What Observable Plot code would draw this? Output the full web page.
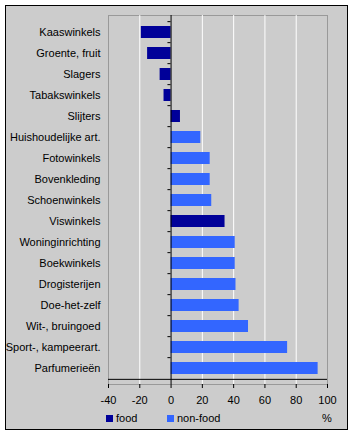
<!DOCTYPE html>
<html>
<head>
<meta charset="utf-8">
<script src="https://cdn.jsdelivr.net/npm/d3@7"></script>
<script src="https://cdn.jsdelivr.net/npm/@observablehq/plot@0.6"></script>
<style>
  html, body { margin: 0; padding: 0; background: #ffffff; }
  #wrap { position: absolute; left: 0; top: 0; width: 354px; height: 436px; }
  #box { position: absolute; left: 5px; top: 5px; width: 343px; height: 425px; background: #cccccc; border: 1px solid #000; box-sizing: border-box; }
  #chart { position: absolute; left: 0; top: 0; }
  .leg { position: absolute; font: 11px "Liberation Sans", Arial, sans-serif; color: #000; top: 411px; line-height: 14px; }
  .sw { display: inline-block; width: 7px; height: 7px; margin-right: 3px; vertical-align: 0px; }
</style>
</head>
<body>
<div id="wrap">
  <div id="box"></div>
  <div id="chart"></div>
  <div class="leg" style="left:106px"><span class="sw" style="background:#000099"></span>food</div>
  <div class="leg" style="left:167px"><span class="sw" style="background:#3366ff"></span>non-food</div>
  <div class="leg" style="left:322px">%</div>
</div>
<script>
const categories = ["Kaaswinkels","Groente, fruit","Slagers","Tabakswinkels","Slijters","Huishoudelijke art.","Fotowinkels","Bovenkleding","Schoenwinkels","Viswinkels","Woninginrichting","Boekwinkels","Drogisterijen","Doe-het-zelf","Wit-, bruingoed","Sport-, kampeerart.","Parfumerieën"];
const values = [-19, -15, -7, -4.5, 6, 19, 25, 25, 26, 34.5, 41, 41, 41.5, 43.5, 49.5, 74.5, 94];
const groups = ["food","food","food","food","food","non-food","non-food","non-food","non-food","food","non-food","non-food","non-food","non-food","non-food","non-food","non-food"];
const xTicks = [-40, -20, 0, 20, 40, 60, 80, 100];
const gridValues = [-20, 20, 40, 60, 80];
const groupNames = ["food", "non-food"];
const groupColors = ["#000099", "#3366ff"];

const data = categories.map((c, i) => ({category: c, value: values[i], group: groups[i]}));

const W = 354, H = 436;
const mt = 15, mb = 52, ml = 108, mr = 27;
const step = (H - mt - mb) / categories.length;

const chart = Plot.plot({
  width: W, height: H,
  marginTop: mt, marginBottom: mb, marginLeft: ml, marginRight: mr,
  style: {background: "transparent", fontFamily: "'Liberation Sans', Arial, sans-serif", fontSize: "11px", color: "#000"},
  x: {domain: [-40, 100]},
  y: {type: "band", domain: categories, paddingInner: 0.45, paddingOuter: 0.225, align: 0.5},
  color: {domain: groupNames, range: groupColors},
  marks: [
    Plot.frame({stroke: "#999999", fill: "#cccccc"}),
    Plot.ruleX(gridValues, {stroke: "#ffffff", strokeWidth: 1}),
    Plot.barX(data, {y: "category", x1: 0, x2: "value", fill: "group"}),
    Plot.ruleX([0], {stroke: "#000000", strokeWidth: 1}),
    Plot.ruleY(categories, {y: d => d, x1: -2, x2: 0, dy: -step / 2, stroke: "#000"}),
    Plot.ruleY([categories[categories.length - 1]], {y: d => d, x1: -40, x2: 100, dy: step / 2, stroke: "#000"}),
    Plot.axisX({ticks: xTicks, tickSize: 4, tickPadding: 8, tickFormat: d => String(d), stroke: "#000", fill: "#000", label: null, fontSize: 11}),
    Plot.axisY({tickSize: 0, tickPadding: 8, fill: "#000", label: null, fontSize: 11})
  ]
});
document.getElementById("chart").appendChild(chart);
</script>
</body>
</html>
